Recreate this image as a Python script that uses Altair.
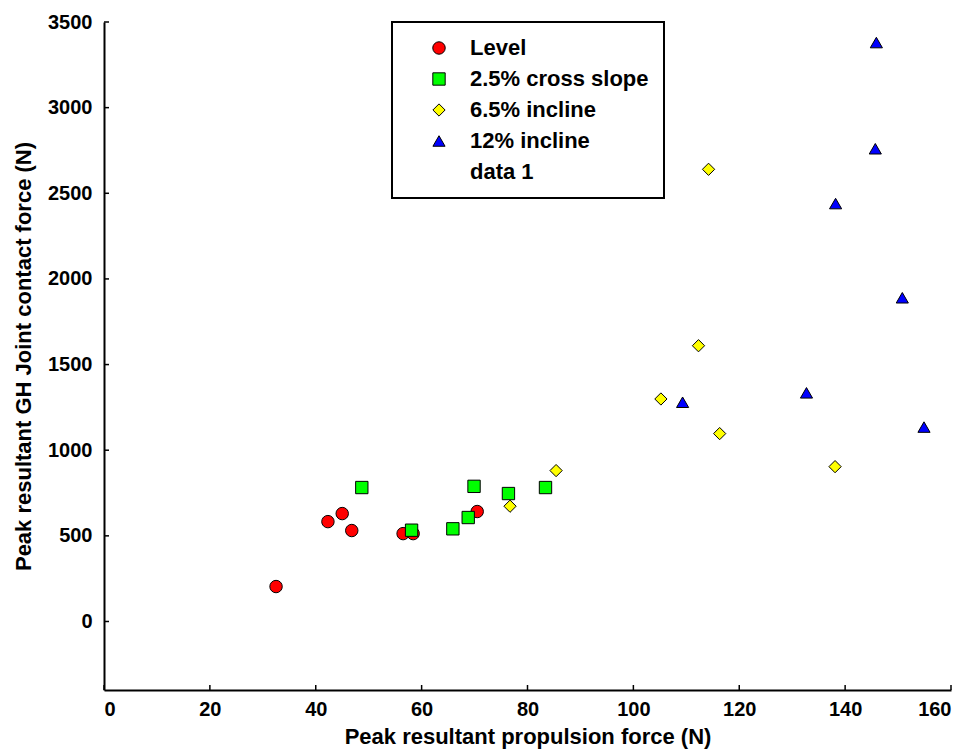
import altair as alt
import pandas as pd

# ---- data ----
level_x = [32.5, 42.3, 45.0, 46.8, 56.5, 58.4, 70.5]
level_y = [204, 583, 630, 531, 513, 513, 642]
cross_x = [48.7, 58.1, 65.9, 68.8, 69.9, 76.4, 83.4]
cross_y = [782, 533, 541, 607, 789, 747, 782]
inc65_x = [76.7, 85.4, 105.2, 112.3, 114.2, 116.3, 138.1]
inc65_y = [673, 881, 1299, 1610, 2640, 1097, 904]
inc12_x = [109.3, 132.7, 138.2, 145.7, 145.9, 150.8, 154.9]
inc12_y = [1280, 1335, 2440, 2760, 3380, 1890, 1135]

series = ["Level", "2.5% cross slope", "6.5% incline", "12% incline", "data 1"]
fills = ["#ff0000", "#00ff00", "#ffff00", "#0000ff", "transparent"]
strokes = ["black", "black", "black", "black", "transparent"]
shapes = ["circle", "square", "diamond", "triangle-up", "circle"]
sizes = [155, 145, 185, 290, 10]

x_ticks = [0, 20, 40, 60, 80, 100, 120, 140, 160]
y_ticks = [0, 500, 1000, 1500, 2000, 2500, 3000, 3500]

rows = []
for name, xs, ys in [(series[0], level_x, level_y), (series[1], cross_x, cross_y),
                     (series[2], inc65_x, inc65_y), (series[3], inc12_x, inc12_y)]:
    for a, b in zip(xs, ys):
        rows.append({"x": a, "y": b, "series": name})
df = pd.DataFrame(rows)

FONT = "Liberation Sans"
W, H = 847, 668

xs = alt.Scale(domain=[0, 160], nice=False, zero=False)
ys = alt.Scale(domain=[-400, 3500], nice=False, zero=False)

leg = alt.Legend(
    title=None, orient="none", legendX=288, legendY=0,
    strokeColor="black", fillColor="white",
    padding=15, symbolOffset=21, labelOffset=20, rowPadding=9,
    labelFont=FONT, labelFontSize=22, labelFontWeight="bold", labelColor="black",
    symbolStrokeWidth=1, labelLimit=400,
)

points = alt.Chart(df).mark_point(filled=True, strokeWidth=1, opacity=1).encode(
    x=alt.X("x:Q", scale=xs, axis=alt.Axis(
        values=x_ticks, format="d", title="Peak resultant propulsion force (N)", tickSize=0,
        labelPadding=9, titlePadding=7)),
    y=alt.Y("y:Q", scale=ys, axis=alt.Axis(
        values=y_ticks, format="d", title="Peak resultant GH Joint contact force (N)", tickSize=0,
        labelPadding=12, titlePadding=12)),
    fill=alt.Fill("series:N", scale=alt.Scale(domain=series, range=fills), legend=leg),
    stroke=alt.Stroke("series:N", scale=alt.Scale(domain=series, range=strokes), legend=leg),
    shape=alt.Shape("series:N", scale=alt.Scale(domain=series, range=shapes), legend=leg),
    size=alt.Size("series:N", scale=alt.Scale(domain=series, range=sizes), legend=leg),
)

xt = pd.DataFrame({"v": x_ticks})
yt = pd.DataFrame({"v": y_ticks})
xtick_rules = alt.Chart(xt).mark_rule(color="black", strokeWidth=1.5).encode(
    x=alt.X("v:Q", scale=xs), y=alt.value(H), y2=alt.value(H - 5))
ytick_rules = alt.Chart(yt).mark_rule(color="black", strokeWidth=1.5).encode(
    y=alt.Y("v:Q", scale=ys), x=alt.value(0), x2=alt.value(5))

chart = alt.layer(points, xtick_rules, ytick_rules).properties(
    width=W, height=H, background="white", padding={"left": 4, "top": 4, "right": 12, "bottom": 2}
).configure_view(stroke=None).configure_axis(
    domainColor="black", domainWidth=2, grid=False,
    labelFont=FONT, labelFontSize=20, labelFontWeight="bold", labelColor="black",
    titleFont=FONT, titleFontSize=22, titleFontWeight="bold", titleColor="black",
).configure_legend(strokeWidth=2)

chart.save("out.html", embed_options={"renderer": "svg", "actions": False})
